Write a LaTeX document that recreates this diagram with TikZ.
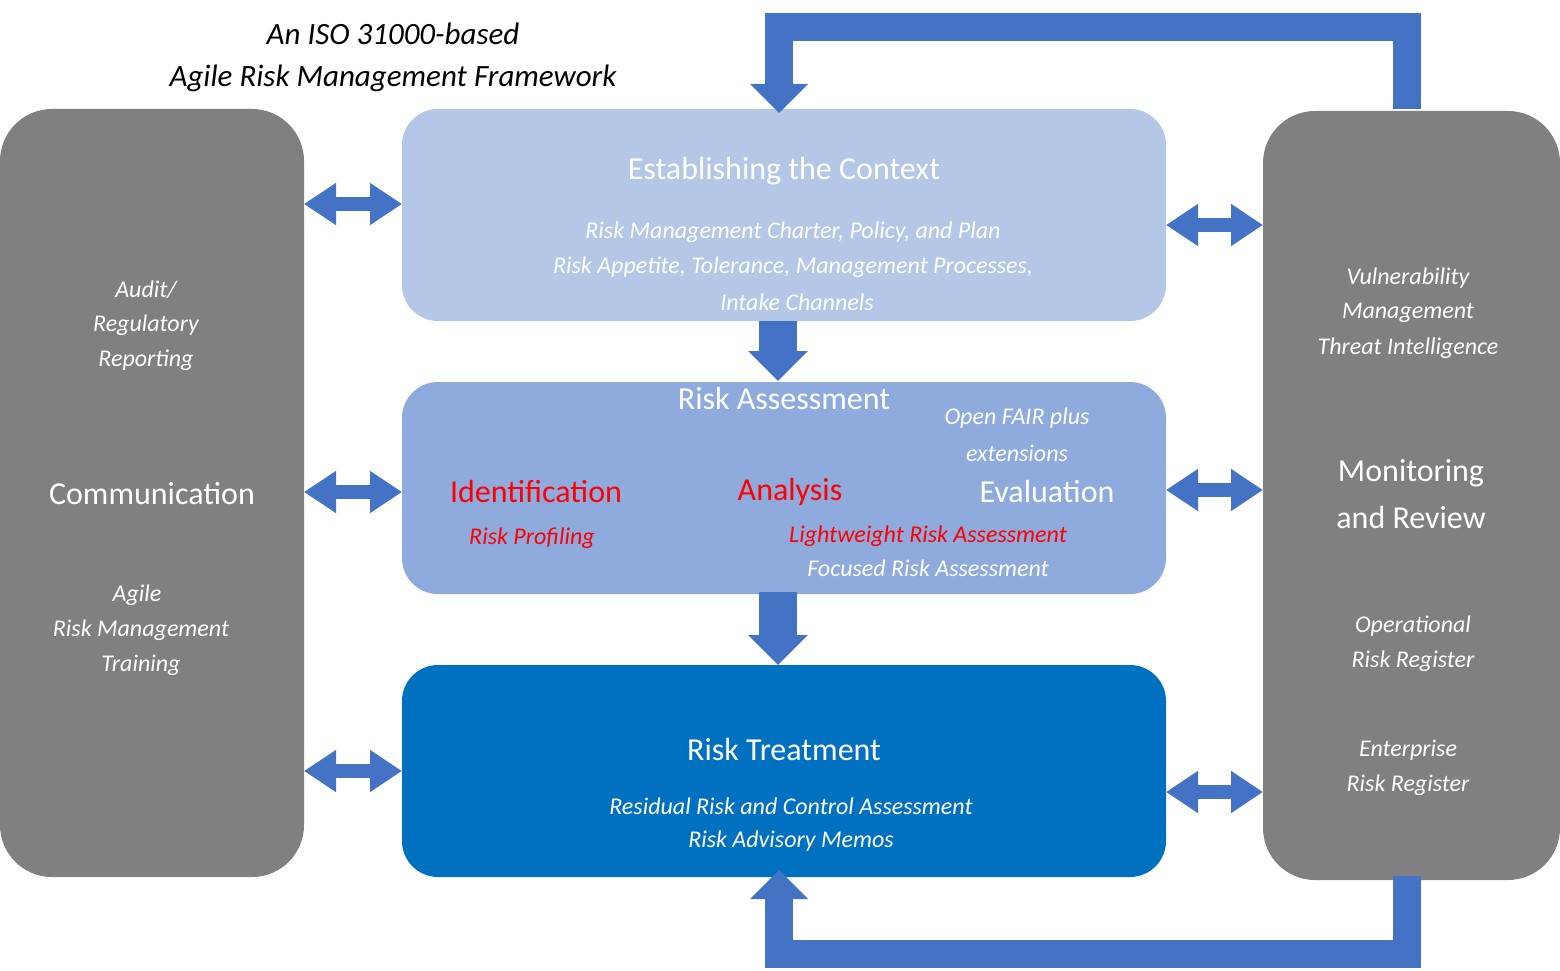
\documentclass[tikz,border=0pt]{standalone}
\usepackage{fontspec}
\setmainfont{Carlito}
\usetikzlibrary{arrows.meta}
\definecolor{gbox}{HTML}{808080}
\definecolor{ctx}{HTML}{B4C7E7}
\definecolor{ass}{HTML}{8FAADC}
\definecolor{trt}{HTML}{0070C0}
\definecolor{arr}{HTML}{4472C4}
\definecolor{arrd}{HTML}{2F528F}
\definecolor{rd}{HTML}{FF0000}
\begin{document}
\begin{tikzpicture}[x=1pt,y=-1pt,
  big/.style={font=\fontsize{32}{38}\selectfont, text=white},
  it/.style={font=\fontsize{24}{28}\selectfont\itshape, text=white},
  dbl/.style={draw=arr, line width=14pt, {Triangle[width=40pt,length=32pt]}-{Triangle[width=40pt,length=32pt]}},
  down/.style={draw=arr, line width=38pt, -{Triangle[width=58pt,length=30pt]}},
  loop/.style={draw=arr, line width=28pt},
  box/.style={rounded corners=36pt}]
\useasboundingbox (0,0) rectangle (1560,971);
% boxes
\fill[gbox, rounded corners=52pt] (0,109) rectangle (304,877);
\fill[gbox, rounded corners=52pt] (1263,111) rectangle (1560,880);
\fill[ctx, box] (402,109) rectangle (1166,321);
\fill[ass, box] (402,382) rectangle (1166,594);
\fill[trt, box] (402,665) rectangle (1166,877);
\coordinate (l1) at (304,204); \coordinate (c1) at (402,204);
\coordinate (l2) at (304,492); \coordinate (c2) at (402,492);
\coordinate (l3) at (304,771); \coordinate (c3) at (402,771);
\coordinate (r1) at (1263,225); \coordinate (d1) at (1166,225);
\coordinate (r2) at (1263,490); \coordinate (d2) at (1166,490);
\coordinate (r3) at (1263,792); \coordinate (d3) at (1166,792);
\draw[dbl] (l1) -- (c1); \draw[dbl] (l2) -- (c2); \draw[dbl] (l3) -- (c3);
\draw[dbl] (d1) -- (r1); \draw[dbl] (d2) -- (r2); \draw[dbl] (d3) -- (r3);
% down arrows
\coordinate (a1) at (778,321); \coordinate (b1) at (778,381);
\coordinate (a2) at (778,592); \coordinate (b2) at (778,665);
\draw[down] (a1) -- (b1); \draw[down] (a2) -- (b2);
% loops
\coordinate (t0) at (1407,109); \coordinate (t1) at (1407,27); \coordinate (t2) at (779,27); \coordinate (t3) at (779,85);
\draw[loop] (t0) -- (t1) -- (t2) -- (t3);
\fill[arr] (750,84) -- (808,84) -- (779,113) -- cycle;
\coordinate (u0) at (1407,876); \coordinate (u1) at (1407,954); \coordinate (u2) at (779,954); \coordinate (u3) at (779,898);
\draw[loop] (u0) -- (u1) -- (u2) -- (u3);
\fill[arr] (750,899) -- (808,899) -- (779,870) -- cycle;
% title
\node[font=\fontsize{31}{36}\selectfont\itshape] (ti1) at (393,34) {An ISO 31000-based};
\node[font=\fontsize{31}{36}\selectfont\itshape] (ti2) at (393,78) {Agile Risk Management Framework};
% left
\node[it] (la) at (146,290) {Audit/};
\node[it] (lb) at (146,325) {Regulatory};
\node[it] (lc) at (146,360) {Reporting};
\node[big] (com) at (152,494) {Communication};
\node[it] (ld) at (137,595) {Agile};
\node[it] (le) at (141,630) {Risk Management};
\node[it] (lf) at (141,665) {Training};
% right
\node[it] (ra) at (1408,278) {Vulnerability};
\node[it] (rb) at (1408,313) {Management};
\node[it] (rc) at (1408,348) {Threat Intelligence};
\node[big] (mon1) at (1411,473) {Monitoring};
\node[big] (mon2) at (1411,518) {and Review};
\node[it] (rd1) at (1413,626) {Operational};
\node[it] (re) at (1413,661) {Risk Register};
\node[it] (rf) at (1408,750) {Enterprise};
\node[it] (rg) at (1408,785) {Risk Register};
% context
\node[big] (ect) at (784,171) {Establishing the Context};
\node[it] (ca) at (793,232) {Risk Management Charter, Policy, and Plan};
\node[it] (cb) at (793,267) {Risk Appetite, Tolerance, Management Processes,};
\node[it] (cc) at (797,302) {Intake Channels};
% assessment
\node[big] (rat) at (784,399) {Risk Assessment};
\node[it] (of1) at (1017,418) {Open FAIR plus};
\node[it] (of2) at (1017,453) {extensions};
\node[big, text=rd] (idn) at (536,492) {Identification};
\node[big, text=rd] (ana) at (790,492) {Analysis};
\node[big] (eva) at (1047,492) {Evaluation};
\node[it, text=rd] (rp) at (532,538) {Risk Profiling};
\node[it, text=rd] (lw) at (928,536) {Lightweight Risk Assessment};
\node[it] (fo) at (928,568) {Focused Risk Assessment};
% treatment
\node[big] (rtt) at (784,749) {Risk Treatment};
\node[it] (ta) at (791,806) {Residual Risk and Control Assessment};
\node[it] (tb) at (791,841) {Risk Advisory Memos};
\end{tikzpicture}
\end{document}
